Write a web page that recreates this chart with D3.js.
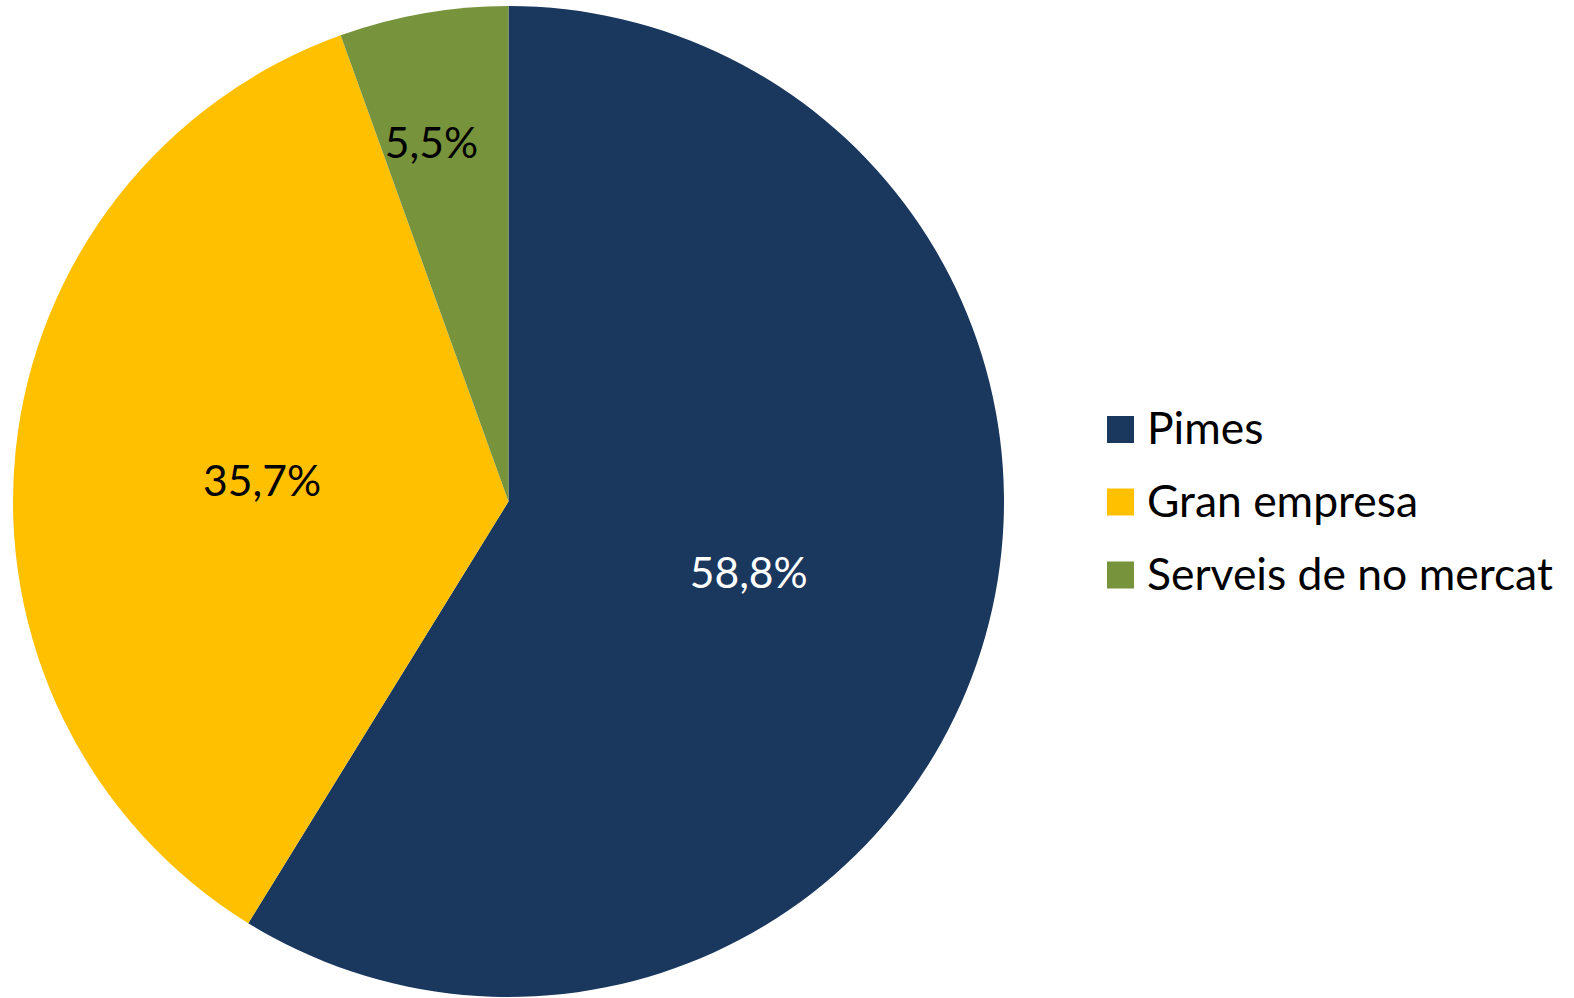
<!DOCTYPE html>
<html><head><meta charset="utf-8">
<script src="https://cdn.jsdelivr.net/npm/d3@7"></script>
<style>html,body{margin:0;padding:0;background:#fff;}svg{display:block;}</style>
</head><body>
<svg id="chart" width="1574" height="998"></svg>
<script>
const categories = ["Pimes", "Gran empresa", "Serveis de no mercat"];
const values = [58.8, 35.7, 5.5];
const labels = ["58,8%", "35,7%", "5,5%"];
const colors = ["#1A375E", "#FFC000", "#77933C"];

const svg = d3.select("#chart");
const cx = 508.5, cy = 501.5, R = 495.5;
const FONT = "Lato, 'Open Sans', sans-serif";

const pie = d3.pie().sort(null).value(d => d)(values);
const arc = d3.arc().innerRadius(0).outerRadius(R);
const g = svg.append("g").attr("transform", `translate(${cx},${cy})`);
g.selectAll("path").data(pie).enter().append("path")
  .attr("d", arc).attr("fill", (d,i) => colors[i]);

const labelFrac = [0.504, 0.50, 0.74];
const labelShift = [[0, 2], [0, 4], [-14, 1]];
const labelColor = ["#ffffff", "#000000", "#000000"];
const lab = g.selectAll("text.lab").data(pie).enter().append("text")
  .attr("class","lab")
  .attr("font-family", FONT)
  .attr("text-anchor","middle")
  .attr("dominant-baseline","central")
  .attr("fill", (d,i) => labelColor[i])
  .text((d,i) => labels[i])
  .each(function(d,i){
    const a = (d.startAngle + d.endAngle)/2;
    const r = R*labelFrac[i];
    d3.select(this).attr("x", r*Math.sin(a) + labelShift[i][0]).attr("y", -r*Math.cos(a) + labelShift[i][1]);
  });
lab.attr("font-size", 40);
const w0 = lab.nodes()[0].getComputedTextLength();
lab.attr("font-size", 40*118/w0);

const legend = svg.append("g");
const rowY = [429.5, 502, 575];
const items = legend.selectAll("g").data(categories).enter().append("g")
  .attr("transform", (d,i) => `translate(1107,${rowY[i]})`);
items.append("rect").attr("x",0).attr("y",-13.5).attr("width",27).attr("height",27)
  .attr("fill",(d,i)=>colors[i]);
const lt = items.append("text").attr("x",40).attr("y",-3)
  .attr("dominant-baseline","central")
  .attr("font-family", FONT).attr("fill","#000").text(d=>d);
lt.attr("font-size", 40);
const w1 = lt.nodes()[2].getComputedTextLength();
lt.attr("font-size", 40*406/w1);
</script>
</body></html>
